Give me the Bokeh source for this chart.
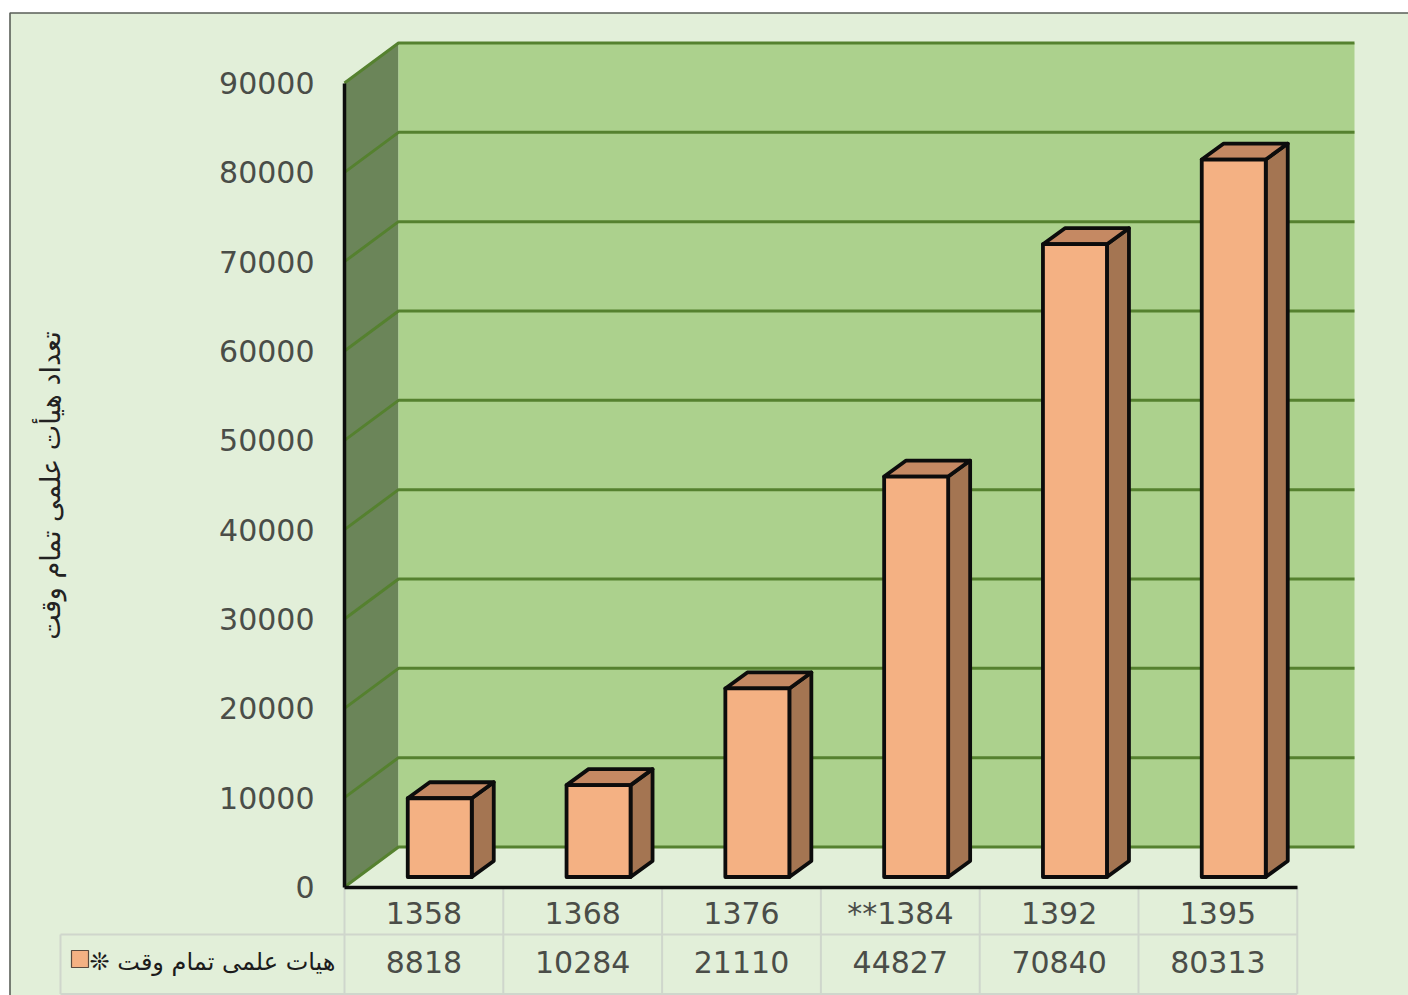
from bokeh.plotting import figure
from bokeh.models import Range1d, LinearAxis, FixedTicker
from bokeh.core.properties import value
from bokeh.embed import file_html
from bokeh.resources import INLINE

years = ["1358", "1368", "1376", "**1384", "1392", "1395"]
faculty = [8818, 10284, 21110, 44827, 70840, 80313]
y_ticks = [0, 10000, 20000, 30000, 40000, 50000, 60000, 70000, 80000, 90000]
legend_label = "❊ هیات علمی تمام وقت"
axis_title = "تعداد هیأت علمی تمام وقت"

PX_W, PX_H = 1408, 995
OFFSET = 0
ORIGIN_X, ORIGIN_Y = 344.0, 886.5
CAT_PX, VAL_PX = 158.8, 804.0 / 90000

def X(px):
    return (px - ORIGIN_X) / CAT_PX

def Y(px):
    return (ORIGIN_Y - px) / VAL_PX

DX, DY = 54 / CAT_PX, 40 / VAL_PX          # wall depth in data units
BAR_D = 10 / 40                            # depth of the bar's front plane
BAR_OFF, BAR_HALF = 2.35 / CAT_PX, 32 / CAT_PX
SIDE_X, SIDE_Y = 22 / CAT_PX, 16 / VAL_PX

p = figure(width=PX_W, height=PX_H, output_backend="svg", toolbar_location=None,
           x_axis_type=None, y_axis_type=None,
           x_range=Range1d(X(OFFSET), X(OFFSET + PX_W)), y_range=Range1d(Y(OFFSET + PX_H), Y(OFFSET)),
           min_border=0, min_border_left=0, min_border_right=0, min_border_top=0, min_border_bottom=0,
           background_fill_color="white", border_fill_color="white")
p.outline_line_color = None

GREEN = "#55812f"
TEXT = "#4a4d48"
GRID = "#cfd6cc"
FONT = value("DejaVu Sans")

# outer panel
p.quad(left=[X(9.5)], right=[X(1430)], top=[Y(12.5)], bottom=[Y(1020)],
       fill_color="#e2efd9", line_color="#5a5f58", line_width=1.6)

# walls
top = y_ticks[-1]
p.patch([0, DX, DX, 0], [0, DY, top + DY, top], fill_color="#6b8559", line_color=None)
back_r = X(1354)
p.quad(left=[DX], right=[back_r], bottom=[DY], top=[top + DY], fill_color="#acd18d", line_color=None)
p.multi_line([[0, DX, back_r] for _ in y_ticks], [[v, v + DY, v + DY] for v in y_ticks],
             line_color=GREEN, line_width=3, line_join="round")

# bars
fx, fy, sx, sy, tx, ty = [], [], [], [], [], []
for i, v in enumerate(faculty):
    c = i + 0.5 + BAR_D * DX + BAR_OFF
    l, r = c - BAR_HALF, c + BAR_HALF
    b = BAR_D * DY
    t = v + b
    fx.append([l, r, r, l]); fy.append([b, b, t, t])
    sx.append([r, r + SIDE_X, r + SIDE_X, r]); sy.append([b, b + SIDE_Y, t + SIDE_Y, t])
    tx.append([l, r, r + SIDE_X, l + SIDE_X]); ty.append([t, t, t + SIDE_Y, t + SIDE_Y])
edge = dict(line_color="#0c0c0c", line_width=3.8, line_join="round")
p.patches(sx, sy, fill_color="#a47552", **edge)
p.patches(tx, ty, fill_color="#c58963", **edge)
p.patches(fx, fy, fill_color="#f4b183", **edge)

# axes
yax = LinearAxis(ticker=FixedTicker(ticks=y_ticks), fixed_location=0, bounds=(0, 90000))
yax.major_label_text_font = "DejaVu Sans"
yax.major_label_text_font_size = "30px"
yax.major_label_text_color = TEXT
yax.major_label_standoff = 24
yax.major_tick_line_color = None
yax.minor_tick_line_color = None
yax.axis_line_color = "#0c0c0c"
yax.axis_line_width = 3.5
yax.axis_label = axis_title
yax.axis_label_text_font = "DejaVu Sans"
yax.axis_label_text_font_style = "normal"
yax.axis_label_text_font_size = "27px"
yax.axis_label_text_color = "#222222"
yax.axis_label_standoff = 150
p.add_layout(yax, "left")

xax = LinearAxis(ticker=FixedTicker(ticks=[i + 0.5 for i in range(len(years))]),
                 fixed_location=0, bounds=(0, len(years)),
                 major_label_overrides={i + 0.5: y for i, y in enumerate(years)})
xax.major_label_text_font = "DejaVu Sans"
xax.major_label_text_font_size = "30px"
xax.major_label_text_color = TEXT
xax.major_label_standoff = 3
xax.major_tick_line_color = None
xax.minor_tick_line_color = None
xax.axis_line_color = "#0c0c0c"
xax.axis_line_width = 3.5
p.add_layout(xax, "below")

# data table
n = len(years)
row_mid, row_bot = Y(934), Y(993.5)
vx = [[k, k] for k in range(n + 1)]
vy = [[0, row_bot] for _ in range(n + 1)]
p.multi_line(vx + [[X(60), X(60)], [X(60), n], [X(60), n]],
             vy + [[row_mid, row_bot], [row_mid, row_mid], [row_bot, row_bot]],
             line_color=GRID, line_width=2)
p.text([i + 0.5 for i in range(n)], [Y(961)] * n, text=[str(v) for v in faculty],
       text_font=FONT, text_font_size="30px", text_color=TEXT,
       text_align="center", text_baseline="middle")
p.text([X(335)], [Y(961)], text=[legend_label], text_font=FONT, text_font_size="24px",
       text_color="#1c1c1c", text_align="right", text_baseline="middle")
p.quad(left=[X(71)], right=[X(88)], top=[Y(950)], bottom=[Y(967)],
       fill_color="#f4b183", line_color="#5a4a3e", line_width=1.2)

open("out.html", "w").write(file_html(p, INLINE))
